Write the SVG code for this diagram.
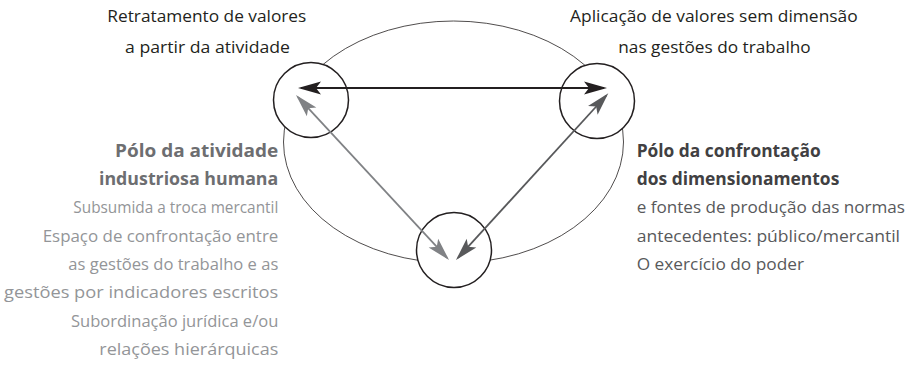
<svg xmlns="http://www.w3.org/2000/svg" width="913" height="371" viewBox="0 0 913 371">
  <style>
    text { font-family: "Open Sans", "Noto Sans", "Liberation Sans", sans-serif; font-size: 17px; }
    .top { fill: #231f20; }
    .lh { fill: #6d6e71; font-weight: bold; font-size: 17.5px; }
    .lb { fill: #939598; }
    .rh { fill: #414042; font-weight: bold; font-size: 17.5px; }
    .rb { fill: #58595b; }
    .pole { fill: #fff; stroke: #231f20; stroke-width: 1.5; }
    .ring { fill: none; stroke: #231f20; stroke-width: 0.8; }
    .conn { fill: none; stroke-width: 1.8; }
  </style>
  <defs>
    <marker id="ahBlack" markerUnits="userSpaceOnUse" orient="auto-start-reverse" markerWidth="30" markerHeight="20" viewBox="-26 -8 30 16" refX="-3" refY="0">
      <path d="M0,0 L-23,-6.5 L-18,0 L-23,6.5 Z" fill="#231f20"/>
    </marker>
    <marker id="ahLight" markerUnits="userSpaceOnUse" orient="auto-start-reverse" markerWidth="30" markerHeight="20" viewBox="-26 -8 30 16" refX="-3" refY="0">
      <path d="M0,0 L-23,-6.5 L-18,0 L-23,6.5 Z" fill="#808285"/>
    </marker>
    <marker id="ahDark" markerUnits="userSpaceOnUse" orient="auto-start-reverse" markerWidth="30" markerHeight="20" viewBox="-26 -8 30 16" refX="-3" refY="0">
      <path d="M0,0 L-23,-6.5 L-18,0 L-23,6.5 Z" fill="#58595b"/>
    </marker>
  </defs>

  <g id="cycle">
    <ellipse class="ring" cx="453.5" cy="142" rx="170" ry="121"/>
  </g>

  <g id="pole-left">
    <circle class="pole" cx="311" cy="100" r="37.5"/>
  </g>
  <g id="pole-right">
    <circle class="pole" cx="597" cy="101" r="37.5"/>
  </g>
  <g id="pole-bottom">
    <circle class="pole" cx="454" cy="250" r="37.5"/>
  </g>

  <g id="connectors">
    <line class="conn" x1="301" y1="88" x2="604" y2="88" stroke="#231f20" marker-start="url(#ahBlack)" marker-end="url(#ahBlack)"/>
    <line class="conn" x1="298" y1="97.2" x2="447" y2="257.8" stroke="#808285" marker-start="url(#ahLight)" marker-end="url(#ahLight)"/>
    <line class="conn" x1="606.3" y1="95.5" x2="458" y2="257.8" stroke="#58595b" marker-start="url(#ahDark)" marker-end="url(#ahDark)"/>
  </g>

  <g id="label-top-left">
    <text class="top" x="107.3" y="22" textLength="199" lengthAdjust="spacingAndGlyphs">Retratamento de valores</text>
    <text class="top" x="125" y="53" textLength="165" lengthAdjust="spacingAndGlyphs">a partir da atividade</text>
  </g>
  <g id="label-top-right">
    <text class="top" x="570" y="22" textLength="287.7" lengthAdjust="spacingAndGlyphs">Aplicação de valores sem dimensão</text>
    <text class="top" x="618.3" y="53" textLength="192.4" lengthAdjust="spacingAndGlyphs">nas gestões do trabalho</text>
  </g>
  <g id="label-left">
    <text class="lh" x="115" y="156.7" textLength="163.3" lengthAdjust="spacingAndGlyphs">Pólo da atividade</text>
    <text class="lh" x="99" y="185" textLength="179.3" lengthAdjust="spacingAndGlyphs">industriosa humana</text>
    <text class="lb" x="73.3" y="213.3" textLength="205" lengthAdjust="spacingAndGlyphs">Subsumida a troca mercantil</text>
    <text class="lb" x="42.7" y="241.7" textLength="235.6" lengthAdjust="spacingAndGlyphs">Espaço de confrontação entre</text>
    <text class="lb" x="68.3" y="270" textLength="210" lengthAdjust="spacingAndGlyphs">as gestões do trabalho e as</text>
    <text class="lb" x="4" y="298.3" textLength="274.3" lengthAdjust="spacingAndGlyphs">gestões por indicadores escritos</text>
    <text class="lb" x="71" y="326.7" textLength="207.3" lengthAdjust="spacingAndGlyphs">Subordinação jurídica e/ou</text>
    <text class="lb" x="99.3" y="355" textLength="179" lengthAdjust="spacingAndGlyphs">relações hierárquicas</text>
  </g>
  <g id="label-right">
    <text class="rh" x="636.7" y="156.7" textLength="184" lengthAdjust="spacingAndGlyphs">Pólo da confrontação</text>
    <text class="rh" x="636.7" y="185" textLength="202.6" lengthAdjust="spacingAndGlyphs">dos dimensionamentos</text>
    <text class="rb" x="636.7" y="213.3" textLength="268.3" lengthAdjust="spacingAndGlyphs">e fontes de produção das normas</text>
    <text class="rb" x="636.7" y="241.7" textLength="263.3" lengthAdjust="spacingAndGlyphs">antecedentes: público/mercantil</text>
    <text class="rb" x="636.7" y="270" textLength="167.3" lengthAdjust="spacingAndGlyphs">O exercício do poder</text>
  </g>
</svg>
